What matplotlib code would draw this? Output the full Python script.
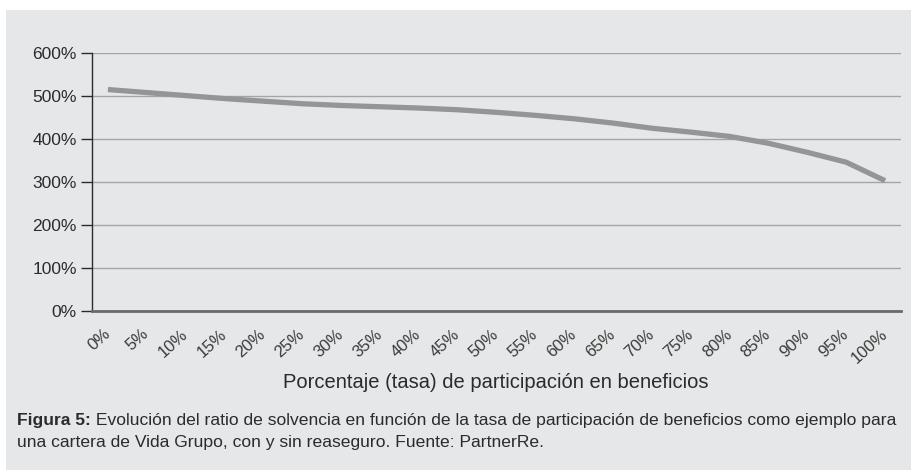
"""Solvency ratio vs. profit-participation rate, single line on a grey panel."""

import matplotlib.pyplot as plt
from matplotlib.patches import Rectangle
from matplotlib.ticker import FuncFormatter

plt.rcParams["font.family"] = ["Liberation Sans", "DejaVu Sans"]

participation = [f"{p}%" for p in range(0, 101, 5)]
solvency = [515, 508, 501, 494, 488, 482, 478, 475, 472, 468, 462,
            455, 447, 437, 425, 416, 406, 390, 369, 346, 303]
y_ticks = [0, 100, 200, 300, 400, 500, 600]

x_label = "Porcentaje (tasa) de participación en beneficios"
caption_bold = "Figura 5:"
caption_line1 = (" Evolución del ratio de solvencia en función de la tasa de "
                 "participación de beneficios como ejemplo para")
caption_line2 = "una cartera de Vida Grupo, con y sin reaseguro. Fuente: PartnerRe."

TEXT = "#2b2b2b"
PANEL = "#e6e7e8"
LINE = "#939598"

W, H = 911, 470
fig = plt.figure(figsize=(W / 100, H / 100), dpi=100, facecolor="white")
fig.patches.append(Rectangle((6 / W, 0), 1 - 6 / W, 1 - 10 / H,
                             transform=fig.transFigure, facecolor=PANEL,
                             edgecolor="none", zorder=-10))

ax = fig.add_axes([92 / W, 1 - 311 / H, (901 - 92) / W, (311 - 53) / H])
ax.set_facecolor("none")
ax.set_zorder(2)

xs = range(len(participation))
ax.plot(xs, solvency, color=LINE, linewidth=3.8, solid_capstyle="butt",
        solid_joinstyle="round", zorder=3)

ax.set_xlim(-0.41, len(participation) - 0.59)
ax.set_ylim(0, 600)
ax.set_yticks(y_ticks)
ax.yaxis.set_major_formatter(FuncFormatter(lambda v, _: f"{v:.0f}%"))
ax.set_xticks(list(xs))
ax.set_xticklabels(participation, rotation=42, ha="right", va="center",
                   rotation_mode="anchor", fontsize=12, color="#3a3a3a")

ax.grid(axis="y", color="#a3a5a8", linewidth=1.0, zorder=1)
ax.tick_params(axis="y", direction="out", length=8, width=1, color=TEXT,
               labelsize=12.5, labelcolor=TEXT, pad=3)
ax.tick_params(axis="x", length=0, pad=15)

for side in ("top", "right"):
    ax.spines[side].set_visible(False)
ax.spines["left"].set_color(TEXT)
ax.spines["left"].set_linewidth(1.0)
ax.spines["bottom"].set_color("#6a6a6a")
ax.spines["bottom"].set_linewidth(2.0)
ax.spines["bottom"].set_zorder(4)

fig.text(496 / W, 1 - 382 / H, x_label, ha="center", va="center",
         fontsize=14.5, color=TEXT)

# caption: bold figure number, then the rest of the first line right after it
renderer = fig.canvas.get_renderer()
bold = fig.text(17 / W, 1 - 421 / H, caption_bold, ha="left", va="center",
                fontsize=12.6, fontweight="bold", color=TEXT)
bb = bold.get_window_extent(renderer=renderer)
fig.text(bb.x1 / W, 1 - 421 / H, caption_line1, ha="left", va="center",
         fontsize=12.6, color=TEXT)
fig.text(17 / W, 1 - 443 / H, caption_line2, ha="left", va="center",
         fontsize=12.6, color=TEXT)

fig.savefig("out.png", dpi=100, facecolor=fig.get_facecolor())
